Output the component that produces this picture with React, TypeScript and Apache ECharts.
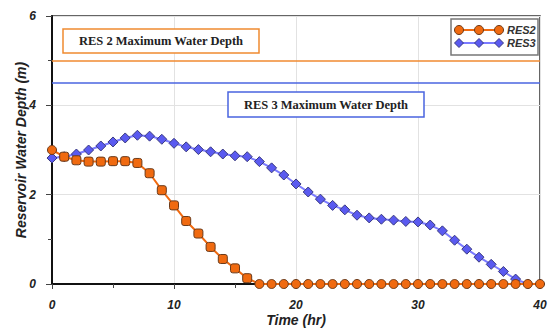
import React, { useEffect, useRef } from "react";
import * as echarts from "echarts";

const hours: number[] = Array.from({ length: 41 }, (_, i) => i);
const res2: number[] = [
  3.0, 2.85, 2.77, 2.74, 2.74, 2.75, 2.75, 2.71, 2.48, 2.1, 1.76, 1.41, 1.13, 0.83, 0.56, 0.35, 0.13,
  0, 0, 0, 0, 0, 0, 0, 0, 0, 0, 0, 0, 0, 0, 0, 0, 0, 0, 0, 0, 0, 0, 0, 0,
];
const res3: number[] = [
  2.82, 2.85, 2.91, 3.0, 3.09, 3.18, 3.27, 3.33, 3.31, 3.24, 3.15, 3.07, 3.01, 2.96, 2.91, 2.87, 2.85,
  2.74, 2.6, 2.44, 2.24, 2.06, 1.9, 1.76, 1.66, 1.54, 1.48, 1.45, 1.43, 1.4, 1.39, 1.32, 1.19, 0.98,
  0.78, 0.6, 0.44, 0.28, 0.11, 0, 0,
];
const res2Max = 5;
const res3Max = 4.5;
const res2Label = "RES 2 Maximum Water Depth";
const res3Label = "RES 3 Maximum Water Depth";
const seriesNames = ["RES2", "RES3"];

const ORANGE = "#f06a10";
const BLUE = "#5a5af0";

export default function App() {
  const ref = useRef<HTMLDivElement>(null);
  useEffect(() => {
    if (!ref.current) return;
    const chart = echarts.init(ref.current, null, { renderer: "svg" });
    const labelFont = {
      fontFamily: "Arial, Liberation Sans, sans-serif",
      fontStyle: "italic" as const,
      fontWeight: "bold" as const,
      color: "#222",
    };
    chart.setOption({
      animation: false,
      backgroundColor: "#fff",
      grid: {
        left: 52,
        right: 11,
        top: 16,
        bottom: 46,
        show: true,
        borderColor: "#333",
        borderWidth: 1.5,
        containLabel: false,
        outerBoundsMode: "none",
      },
      xAxis: {
        type: "value",
        min: 0,
        max: 40,
        interval: 10,
        name: "Time (hr)",
        nameLocation: "middle",
        nameGap: 29,
        nameMoveOverlap: false,
        nameTextStyle: { ...labelFont, fontSize: 14 },
        axisLine: { show: true, onZero: false, lineStyle: { color: "#111", width: 2 } },
        axisTick: { show: true, length: 5, lineStyle: { color: "#444" } },
        minorTick: { show: true, splitNumber: 2, length: 4, lineStyle: { color: "#444" } },
        axisLabel: { ...labelFont, fontSize: 12, margin: 15 },
        splitLine: { show: true, lineStyle: { color: "#e2e2e2", width: 1 } },
      },
      yAxis: {
        type: "value",
        min: 0,
        max: 6,
        interval: 2,
        name: "Reservoir Water Depth (m)",
        nameLocation: "middle",
        nameGap: 24,
        nameMoveOverlap: false,
        nameTextStyle: { ...labelFont, fontSize: 14 },
        axisLine: { show: true, onZero: false, lineStyle: { color: "#111", width: 2 } },
        axisTick: { show: true, length: 6, lineStyle: { color: "#444" } },
        minorTick: { show: true, splitNumber: 2, length: 4, lineStyle: { color: "#444" } },
        axisLabel: { ...labelFont, fontSize: 12, margin: 16 },
        splitLine: { show: true, lineStyle: { color: "#e2e2e2", width: 1 } },
      },
      series: [
        {
          name: seriesNames[0],
          type: "line",
          data: hours.map((h, i) => [h, res2[i]]),
          symbol: (_v: any, p: any) =>
            p.dataIndex >= 1 && p.dataIndex <= 16 ? "roundRect" : "circle",
          symbolSize: 9,
          lineStyle: { color: ORANGE, width: 2 },
          itemStyle: { color: ORANGE, borderColor: "#6a3a1a", borderWidth: 1 },
          z: 3,
          markLine: {
            silent: true,
            symbol: "none",
            label: { show: false },
            lineStyle: { color: "#f08a30", width: 1.5, type: "solid" },
            data: [{ yAxis: res2Max }],
          },
        },
        {
          name: seriesNames[1],
          type: "line",
          data: hours.map((h, i) => [h, res3[i]]),
          symbol: "diamond",
          symbolSize: 10,
          lineStyle: { color: "#7b7bff", width: 2 },
          itemStyle: { color: BLUE, borderColor: "#3a3a80", borderWidth: 1 },
          z: 2,
          markLine: {
            silent: true,
            symbol: "none",
            label: { show: false },
            lineStyle: { color: "#4a64e0", width: 1.5, type: "solid" },
            data: [{ yAxis: res3Max }],
          },
        },
      ],
      graphic: [
        {
          type: "rect",
          shape: { x: 63, y: 29, width: 196, height: 24 },
          style: { fill: "#fff", stroke: "#f08a30", lineWidth: 1.5 },
          z: 10,
        },
        {
          type: "text",
          x: 161,
          y: 41,
          style: {
            text: res2Label,
            fontFamily: "Times New Roman, Liberation Serif, serif",
            fontWeight: "bold",
            fontSize: 12.5,
            fill: "#222",
            align: "center",
            verticalAlign: "middle",
          },
          z: 11,
        },
        {
          type: "rect",
          shape: { x: 228, y: 92, width: 196, height: 25 },
          style: { fill: "#fff", stroke: "#4a64e0", lineWidth: 1.5 },
          z: 10,
        },
        {
          type: "text",
          x: 326,
          y: 104.5,
          style: {
            text: res3Label,
            fontFamily: "Times New Roman, Liberation Serif, serif",
            fontWeight: "bold",
            fontSize: 12.5,
            fill: "#222",
            align: "center",
            verticalAlign: "middle",
          },
          z: 11,
        },
        {
          type: "group",
          x: 451,
          y: 19,
          z: 12,
          children: [
            {
              type: "rect",
              shape: { x: 0, y: 0, width: 87, height: 36 },
              style: { fill: "#fff", stroke: "#777", lineWidth: 1.5 },
            },
            { type: "line", shape: { x1: 8, y1: 11, x2: 48, y2: 11 }, style: { stroke: ORANGE, lineWidth: 2 } },
            ...[8, 28, 48].map((cx) => ({
              type: "circle",
              shape: { cx, cy: 11, r: 4.5 },
              style: { fill: ORANGE, stroke: "#6a3a1a", lineWidth: 1 },
            })),
            { type: "line", shape: { x1: 8, y1: 24, x2: 48, y2: 24 }, style: { stroke: "#7b7bff", lineWidth: 2 } },
            ...[8, 28, 48].map((cx) => ({
              type: "polygon",
              shape: { points: [[cx, 19.5], [cx + 4.5, 24], [cx, 28.5], [cx - 4.5, 24]] },
              style: { fill: BLUE, stroke: "#3a3a80", lineWidth: 1 },
            })),
            {
              type: "text",
              x: 56,
              y: 11,
              style: {
                text: seriesNames[0],
                fontFamily: "Arial, Liberation Sans, sans-serif",
                fontStyle: "italic",
                fontWeight: "bold",
                fontSize: 11,
                fill: "#333",
                verticalAlign: "middle",
              },
            },
            {
              type: "text",
              x: 56,
              y: 24,
              style: {
                text: seriesNames[1],
                fontFamily: "Arial, Liberation Sans, sans-serif",
                fontStyle: "italic",
                fontWeight: "bold",
                fontSize: 11,
                fill: "#333",
                verticalAlign: "middle",
              },
            },
          ],
        },
      ],
    });
    return () => chart.dispose();
  }, []);
  return <div ref={ref} style={{ width: 551, height: 330, position: "absolute", left: 0, top: 0 }} />;
}
